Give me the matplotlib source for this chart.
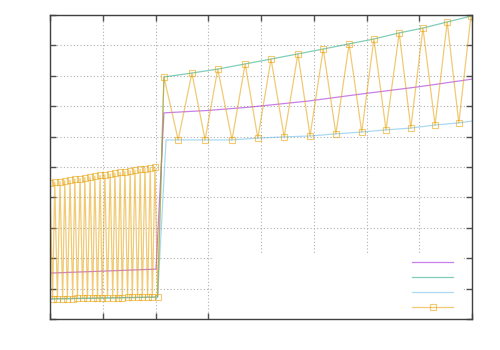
import matplotlib
matplotlib.use("Agg")
import matplotlib.pyplot as plt
from matplotlib.patches import Rectangle

# zigzag series (orange, hollow squares): left block then right block
zig_x = [0.00, 0.05, 0.09, 0.14, 0.19, 0.24, 0.28, 0.33, 0.38, 0.43,
         0.47, 0.52, 0.57, 0.62, 0.66, 0.71, 0.76, 0.81, 0.85, 0.90,
         0.95, 0.99, 1.04, 1.09, 1.14, 1.19, 1.23, 1.28, 1.33, 1.37,
         1.42, 1.47, 1.52, 1.56, 1.61, 1.66, 1.71, 1.75, 1.80, 1.85,
         1.90, 1.94, 1.99, 2.04,
         2.16, 2.43, 2.69, 2.94, 3.18, 3.45, 3.70, 3.94, 4.19, 4.44,
         4.70, 4.93, 5.18, 5.42, 5.67, 5.91, 6.14, 6.37, 6.62, 6.84,
         7.07, 7.30, 7.53, 7.75, 7.98]
zig_y = [4.47, 0.66, 4.50, 0.66, 4.52, 0.67, 4.55, 0.67, 4.57, 0.67,
         4.60, 0.68, 4.62, 0.68, 4.65, 0.68, 4.67, 0.69, 4.70, 0.69,
         4.72, 0.69, 4.75, 0.70, 4.77, 0.70, 4.80, 0.70, 4.82, 0.70,
         4.85, 0.71, 4.87, 0.71, 4.90, 0.71, 4.92, 0.72, 4.95, 0.72,
         4.97, 0.72, 5.00, 0.72,
         7.96, 5.89, 8.09, 5.89, 8.22, 5.89, 8.39, 5.95, 8.55, 5.99,
         8.72, 6.02, 8.88, 6.09, 9.05, 6.15, 9.21, 6.22, 9.41, 6.28,
         9.57, 6.38, 9.77, 6.45, 9.97]

# upper envelope (green)
upper_x = [0.00, 2.04, 2.16, 2.69, 3.18, 3.70, 4.19, 4.70, 5.18, 5.67,
           6.14, 6.62, 7.07, 7.53, 8.00]
upper_y = [0.66, 0.72, 7.96, 8.09, 8.22, 8.39, 8.55, 8.72, 8.88, 9.05,
           9.21, 9.41, 9.57, 9.77, 9.97]

# lower envelope (blue)
lower_x = [0.00, 2.04, 2.20, 2.43, 2.94, 3.45, 3.94, 4.44, 4.93, 5.42,
           5.91, 6.37, 6.84, 7.30, 7.75, 8.00]
lower_y = [0.66, 0.72, 5.89, 5.89, 5.89, 5.89, 5.95, 5.99, 6.02, 6.09,
           6.15, 6.22, 6.28, 6.38, 6.45, 6.51]

# mean (purple)
mid_x = [0.00, 2.01, 2.16, 3.00, 3.79, 4.90, 5.90, 7.00, 8.00]
mid_y = [1.51, 1.64, 6.78, 6.86, 6.97, 7.17, 7.40, 7.64, 7.89]

key_labels = ["", "", "", ""]

fig = plt.figure(figsize=(5, 3.5), dpi=100)
ax = fig.add_axes([0.1, 0.0886, 0.844, 0.8686])

a = 0.5
l1, = ax.plot(mid_x, mid_y, color="#9400d3", lw=0.9, alpha=a)
l2, = ax.plot(upper_x, upper_y, color="#009e73", lw=0.9, alpha=a)
l3, = ax.plot(lower_x, lower_y, color="#56b4e9", lw=0.9, alpha=a)
l4, = ax.plot(zig_x, zig_y, color="#e69f00", lw=0.9, alpha=0.55, marker="s",
              ms=4.5, mfc="none", mew=0.8)

ax.set_xlim(0, 8)
ax.set_ylim(0, 10)
ax.set_xticks(range(0, 9))
ax.set_yticks(range(0, 11))
ax.tick_params(direction="in", length=4, width=1, color="#505050",
               top=True, right=True, labelbottom=False, labelleft=False)
for s in ax.spines.values():
    s.set_color("#404040")
    s.set_linewidth(1)
ax.set_axisbelow(True)
ax.grid(True, color="#b0b0b0", lw=0.8, linestyle=(0, (1, 2)))

# key area hides the grid
ax.add_patch(Rectangle((0.384, 0.0), 0.595, 0.217, transform=ax.transAxes,
                       facecolor="white", edgecolor="none", zorder=1))

leg = ax.legend([l1, l2, l3, l4], key_labels, loc="lower right",
                bbox_to_anchor=(0.984, -0.027), frameon=False,
                handlelength=2.9, fontsize=10, labelspacing=0.08, numpoints=1,
                markerfirst=False, handletextpad=0.0)

fig.savefig("out.png", dpi=100)
